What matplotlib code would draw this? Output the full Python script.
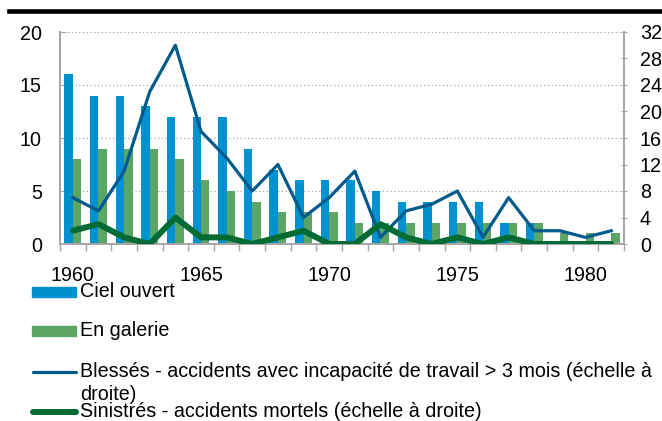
import numpy as np
import matplotlib
matplotlib.use("Agg")
import matplotlib.pyplot as plt
from matplotlib.patches import Rectangle
from matplotlib.lines import Line2D

plt.rcParams["font.family"] = ["Liberation Sans", "DejaVu Sans"]

years = list(range(1960, 1982))
ciel_ouvert = [16, 14, 14, 13, 12, 12, 12, 9, 7, 6, 6, 6, 5, 4, 4, 4, 4, 2, 2, 0, 0, 0]
en_galerie = [8, 9, 9, 9, 8, 6, 5, 4, 3, 3, 3, 2, 2, 2, 2, 2, 2, 2, 2, 1, 1, 1]
blesses = [7, 5, 11, 23, 30, 17, 13, 8, 12, 4, 7, 11, 1, 5, 6, 8, 1, 7, 2, 2, 1, 2]
sinistres = [2, 3, 1, 0, 4, 1, 1, 0, 1, 2, 0, 0, 3, 1, 0, 1, 0, 1, 0, 0, 0, 0]

labels = [
    "Ciel ouvert",
    "En galerie",
    "Blessés - accidents avec incapacité de travail > 3 mois (échelle à\ndroite)",
    "Sinistrés - accidents mortels (échelle à droite)",
]

c_blue = "#0092D0"
c_green = "#5BA565"
c_line1 = "#005A8C"
c_line2 = "#006B35"
c_axis = "#A6A6A6"
fs = 14.25

W, H = 662, 421
fig = plt.figure(figsize=(W / 100, H / 100), dpi=100)
ax = fig.add_axes([60 / W, 1 - 244 / H, (624 - 60) / W, (244 - 32) / H])
ax2 = ax.twinx()

x = np.arange(len(years))
bw = 0.33
ax.bar(x - bw / 2, ciel_ouvert, width=bw, color=c_blue, zorder=2)
ax.bar(x + bw / 2, en_galerie, width=bw, color=c_green, zorder=2)

ax2.plot(x, blesses, color=c_line1, lw=2.3, zorder=3)
ax2.plot(x, sinistres, color=c_line2, lw=4.3, solid_joinstyle="round",
         solid_capstyle="round", zorder=3)

ax.set_xlim(-0.5, len(years) - 0.5)
ax.set_ylim(0, 20)
ax2.set_ylim(0, 32)
ax.set_yticks([0, 5, 10, 15, 20])
ax2.set_yticks(range(0, 33, 4))

ax.set_xticks(x[::5])
ax.set_xticklabels([str(y) for y in years[::5]])
ax.set_xticks(np.arange(-0.5, len(years), 1), minor=True)
ax.tick_params(axis="x", which="major", length=0, pad=16, labelsize=fs)
ax.tick_params(axis="x", which="minor", length=5, color=c_axis, width=1, direction="out")
ax.tick_params(axis="y", length=4, color=c_axis, direction="in", pad=13, labelsize=fs)
ax2.tick_params(axis="y", length=5, color=c_axis, direction="inout", pad=9, labelsize=fs)

ax.grid(axis="y", color="#A6A6A6", linestyle=(0, (1, 2)), lw=0.9, zorder=0)
ax.set_axisbelow(True)

for a in (ax, ax2):
    a.spines["top"].set_visible(False)
    for s in ("left", "right", "bottom"):
        a.spines[s].set_color(c_axis)
        a.spines[s].set_linewidth(1.3)

# black rule at the top
fig.add_artist(Line2D([9 / W, 1], [1 - 10.5 / H] * 2, color="black", lw=3.3,
                      transform=fig.transFigure))

# legend drawn by hand to keep the Excel layout
rows = [291.7, 330.7, 371.7, 411.7]
tx = 80 / W
for i, (lab, yy) in enumerate(zip(labels, rows)):
    fy = 1 - yy / H
    if i < 2:
        col = c_blue if i == 0 else c_green
        fig.add_artist(Rectangle((32 / W, fy - 5 / H), 44 / W, 10 / H, color=col,
                                 transform=fig.transFigure))
    else:
        col = c_line1 if i == 2 else c_line2
        lw = 2.3 if i == 2 else 4.3
        fig.add_artist(Line2D([33 / W, 76 / W], [fy, fy], color=col, lw=lw,
                              solid_capstyle="round", transform=fig.transFigure))
    if "\n" in lab:
        first, second = lab.split("\n")
        fig.text(tx, fy, first, fontsize=fs, va="center", ha="left")
        fig.text(tx, 1 - 395 / H, second, fontsize=fs, va="center", ha="left")
    else:
        fig.text(tx, fy, lab, fontsize=fs, va="center", ha="left")

fig.savefig("out.png", dpi=100)
